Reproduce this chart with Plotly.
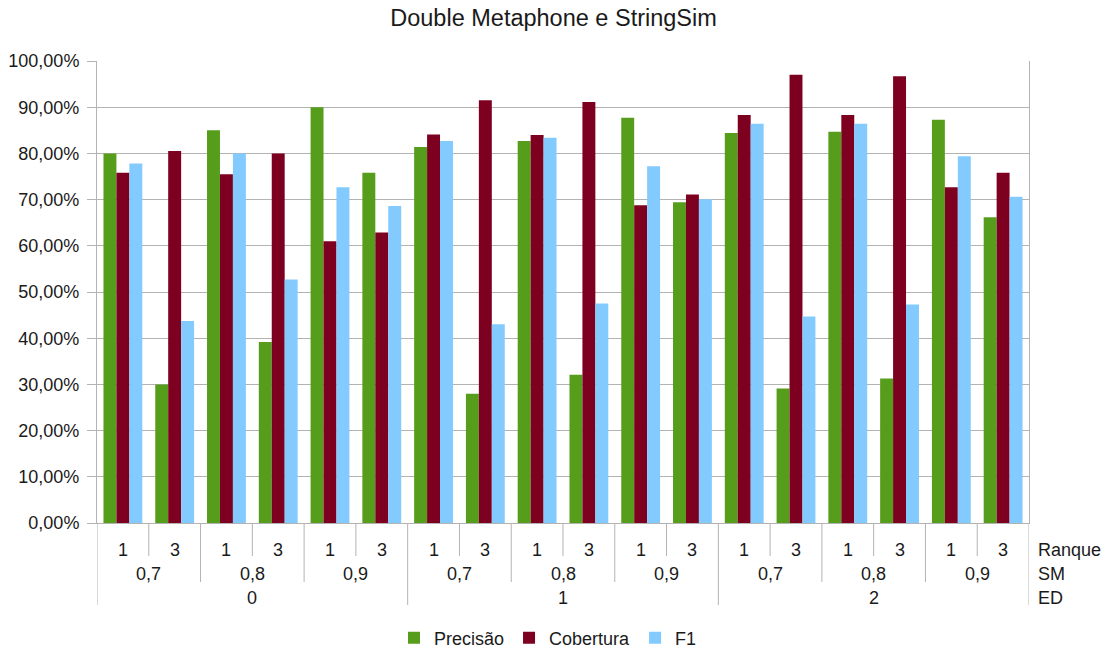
import plotly.graph_objects as go

# ---- data ----
ed_levels = ["0", "1", "2"]
sm_levels = ["0,7", "0,8", "0,9"]
ranque_levels = ["1", "3"]

precisao = [80.0, 30.0, 85.0, 39.2, 90.0, 75.8, 81.4, 28.0, 82.7, 32.1, 87.7, 69.4, 84.4, 29.1, 84.7, 31.3, 87.3, 66.2]
cobertura = [75.8, 80.5, 75.5, 80.0, 61.0, 62.9, 84.1, 91.5, 84.0, 91.1, 68.8, 71.1, 88.3, 97.0, 88.3, 96.7, 72.7, 75.8]
f1 = [77.8, 43.7, 80.0, 52.7, 72.7, 68.6, 82.7, 43.0, 83.4, 47.5, 77.2, 70.1, 86.4, 44.7, 86.4, 47.3, 79.4, 70.6]

series_names = ["Precisão", "Cobertura", "F1"]
series_colors = ["#579D1C", "#7E0021", "#83CAFF"]

# ---- layout constants ----
W, H = 1116, 650
L, R, T, B = 97, 87, 61, 127
plot_h = H - T - B
FONT = "Liberation Sans, Arial, sans-serif"
TXT = "#1a1a1a"
GRID = "#b3b3b3"

def py(pix):  # pixel y (from top) -> paper y
    return (H - B - pix) / plot_h

n_r, n_s = len(ranque_levels), len(sm_levels)
n = len(ed_levels) * n_s * n_r
xs = list(range(n))

fig = go.Figure()
for name, col, vals in zip(series_names, series_colors, [precisao, cobertura, f1]):
    fig.add_trace(go.Bar(x=xs, y=vals, name=name, marker=dict(color=col, line=dict(width=0))))

annotations = []
shapes = []
# Ranque labels
for i in xs:
    annotations.append(dict(x=i, y=py(550), xref="x", yref="paper", text=ranque_levels[i % n_r],
                            showarrow=False, xanchor="center", yanchor="middle",
                            font=dict(size=18, color=TXT, family=FONT)))
# SM labels
for k in range(len(ed_levels) * n_s):
    annotations.append(dict(x=k * n_r + (n_r - 1) / 2, y=py(574), xref="x", yref="paper",
                            text=sm_levels[k % n_s], showarrow=False, xanchor="center", yanchor="middle",
                            font=dict(size=18, color=TXT, family=FONT)))
# ED labels
for e, lab in enumerate(ed_levels):
    annotations.append(dict(x=e * n_s * n_r + (n_s * n_r - 1) / 2, y=py(598), xref="x", yref="paper",
                            text=lab, showarrow=False, xanchor="center", yanchor="middle",
                            font=dict(size=18, color=TXT, family=FONT)))
# Row titles
for lab, ypix in zip(["Ranque", "SM", "ED"], [550, 574, 598]):
    annotations.append(dict(x=(1036 - L) / (W - L - R), y=py(ypix), xref="paper", yref="paper",
                            text=lab, showarrow=False, xanchor="left", yanchor="middle",
                            font=dict(size=18, color=TXT, family=FONT)))

# separator lines
for b in range(n + 1):
    xb = b - 0.5
    if b % (n_s * n_r) == 0:
        bottom = 605
    elif b % n_r == 0:
        bottom = 582
    else:
        bottom = 556
    shapes.append(dict(type="line", xref="x", yref="paper", x0=xb, x1=xb, y0=0, y1=py(bottom),
                       line=dict(color=GRID, width=1)))

fig.update_layout(
    width=W, height=H,
    margin=dict(l=L, r=R, t=T, b=B, autoexpand=False),
    paper_bgcolor="white", plot_bgcolor="white",
    separators=",.",
    barmode="group", bargap=0.25, bargroupgap=0,
    title=dict(text="Double Metaphone e StringSim", x=0.496, xref="container", xanchor="center",
               y=1 - 18 / H, yref="container", yanchor="middle",
               font=dict(size=23.5, color=TXT, family=FONT)),
    font=dict(family=FONT, color=TXT, size=18),
    legend=dict(orientation="h", x=(548 - L) / (W - L - R), xanchor="center",
                y=py(638), yanchor="middle", font=dict(size=18, color=TXT, family=FONT),
                itemwidth=30, traceorder="normal"),
    annotations=annotations,
    shapes=shapes,
    showlegend=True,
)
fig.update_xaxes(range=[-0.5, n - 0.5], showticklabels=False, showgrid=False, zeroline=False,
                 showline=True, linecolor=GRID, linewidth=1, ticks="", automargin=False)
fig.update_yaxes(range=[0, 100], dtick=10, tickformat=".2f", ticksuffix="%",
                 showgrid=True, gridcolor=GRID, gridwidth=1, zeroline=False,
                 showline=True, linecolor=GRID, linewidth=1, mirror=True,
                 ticks="outside", ticklen=9, tickcolor=GRID, ticklabelstandoff=4,
                 tickfont=dict(size=18, color=TXT, family=FONT), automargin=False)

fig.write_html("out.html", config={"displayModeBar": False},
               post_script="document.body.style.margin='0';document.body.style.overflow='hidden';")
